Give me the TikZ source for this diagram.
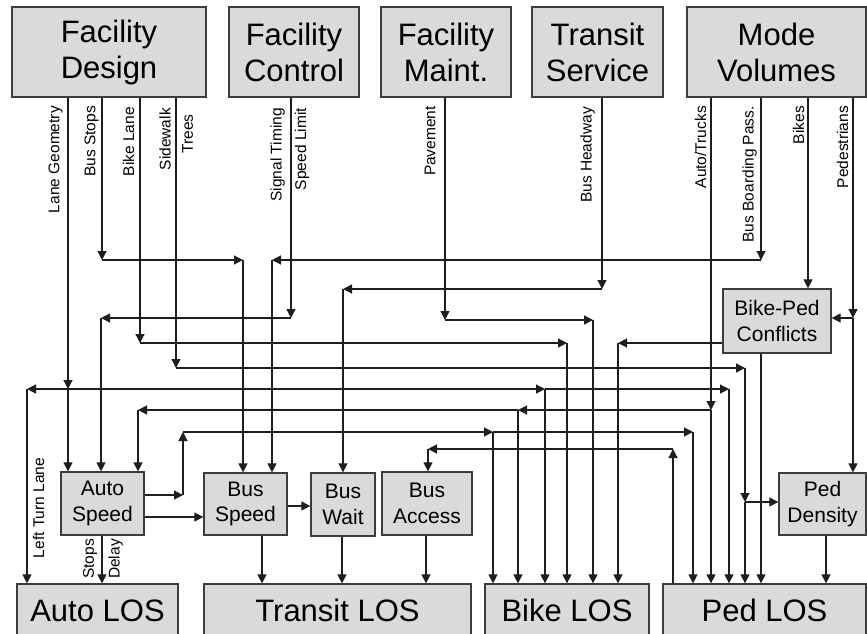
\documentclass[tikz,border=0pt]{standalone}
\usepackage{fontspec}
\setmainfont{Liberation Sans}
\usetikzlibrary{arrows.meta}
\newcommand\tfBig{\fontsize{31}{36}\selectfont}
\newcommand\tfMid{\fontsize{21}{25.5}\selectfont}
\newcommand\tfLab{\fontsize{15.5}{18}\selectfont}
\definecolor{boxfill}{RGB}{217,218,219}
\definecolor{boxline}{RGB}{60,60,60}
\definecolor{linec}{RGB}{30,30,30}
\tikzset{
  box/.style={draw=boxline, fill=boxfill, line width=1.3pt, inner sep=0pt, align=center},
  bigbox/.style={box, font=\tfBig},
  midbox/.style={box, font=\tfMid},
  ln/.style={line width=1.2pt, draw=linec},
  arr/.style={ln, -{Triangle[length=9pt,width=9pt]}},
  lab/.style={rotate=90, inner sep=0pt, font=\tfLab, text=black}
}
\begin{document}
\begin{tikzpicture}[x=1pt,y=-1pt]
\useasboundingbox (0,0) rectangle (867,633);

% top boxes
\node[bigbox, minimum width=194pt, minimum height=90pt] (fd) at (109,52) {Facility\\Design};
\node[bigbox, minimum width=130pt, minimum height=90pt] (fc) at (294,52) {Facility\\Control};
\node[bigbox, minimum width=130pt, minimum height=90pt] (fm) at (446,52) {Facility\\Maint.};
\node[bigbox, minimum width=131pt, minimum height=90pt] (ts) at (597.5,52) {Transit\\Service};
\node[bigbox, minimum width=179pt, minimum height=90pt] (mv) at (776.5,52) {Mode\\Volumes};

% middle boxes
\node[midbox, minimum width=83pt, minimum height=63pt] (aspd) at (102.5,503.5) {Auto\\Speed};
\node[midbox, minimum width=83pt, minimum height=62pt] (bspd) at (245.5,504) {Bus\\Speed};
\node[midbox, minimum width=64pt, minimum height=63pt] (bwait) at (343,504.5) {Bus\\Wait};
\node[midbox, minimum width=90pt, minimum height=63pt] (bacc) at (427,503.5) {Bus\\Access};
\node[midbox, minimum width=108pt, minimum height=64pt] (bpc) at (777,321) {Bike-Ped\\Conflicts};
\node[midbox, minimum width=87pt, minimum height=62pt] (pden) at (822.5,504) {Ped\\Density};

% bottom boxes
\node[bigbox, minimum width=161pt, minimum height=53pt] (alos) at (97.5,610.5) {Auto LOS};
\node[bigbox, minimum width=267pt, minimum height=53pt] (tlos) at (337.5,610.5) {Transit LOS};
\node[bigbox, minimum width=164pt, minimum height=53pt] (blos) at (567,610.5) {Bike LOS};
\node[bigbox, minimum width=203pt, minimum height=53pt] (plos) at (764.5,610.5) {Ped LOS};

% corner coordinates
\coordinate (lg1) at (68,389);
\coordinate (lg0) at (27,389);
\coordinate (lg2) at (545,389);
\coordinate (lg3) at (729,389);
\coordinate (bst1) at (102,260);
\coordinate (bst2) at (243,260);
\coordinate (bl1) at (140,343);
\coordinate (bl2) at (567,343);
\coordinate (sw1) at (176,368);
\coordinate (sw2) at (745,368);
\coordinate (sw3) at (745,502);
\coordinate (sig1) at (291,318);
\coordinate (sig2) at (101,318);
\coordinate (pav1) at (445,320);
\coordinate (pav2) at (593,320);
\coordinate (bh1) at (602,289);
\coordinate (bh2) at (343,289);
\coordinate (at1) at (711,410);
\coordinate (at2) at (518,410);
\coordinate (at3) at (138,410);
\coordinate (bb1) at (761,260);
\coordinate (bb2) at (272,260);
\coordinate (bkx) at (808,0);
\coordinate (ped1) at (853,318);
\coordinate (bpc1) at (618,343);
\coordinate (bpx) at (761,0);
\coordinate (asp1) at (183,495);
\coordinate (asp2) at (183,432);
\coordinate (asp3) at (493,432);
\coordinate (asp4) at (693,432);
\coordinate (asb) at (0,517);
\coordinate (asx) at (102,0);
\coordinate (bsw) at (0,506);
\coordinate (bsx) at (262,0);
\coordinate (bwx) at (342,0);
\coordinate (bax) at (426,0);
\coordinate (pl1) at (673,449);
\coordinate (pl2) at (428,449);
\coordinate (pdx) at (826,0);

% Lane Geometry
\draw[arr] (fd.south -| lg1) -- (lg1);
\draw[arr] (lg1) -- (lg0);
\draw[arr] (lg0) -- (lg0 |- alos.north);
\draw[arr] (lg1) -- (lg1 |- aspd.north);
\draw[arr] (lg1) -- (lg2);
\draw[arr] (lg2) -- (lg2 |- blos.north);
\draw[arr] (lg2) -- (lg3);
\draw[arr] (lg3) -- (lg3 |- plos.north);
% Bus Stops
\draw[arr] (fd.south -| bst1) -- (bst1);
\draw[arr] (bst1) -- (bst2);
\draw[arr] (bst2) -- (bst2 |- bspd.north);
% Bike Lane
\draw[arr] (fd.south -| bl1) -- (bl1);
\draw[arr] (bl1) -- (bl2);
\draw[arr] (bl2) -- (bl2 |- blos.north);
% Sidewalk / Trees
\draw[arr] (fd.south -| sw1) -- (sw1);
\draw[arr] (sw1) -- (sw2);
\draw[arr] (sw2) -- (sw3);
\draw[arr] (sw3) -- (sw3 -| pden.west);
\draw[arr] (sw3) -- (sw3 |- plos.north);
% Signal Timing / Speed Limit
\draw[arr] (fc.south -| sig1) -- (sig1);
\draw[arr] (sig1) -- (sig2);
\draw[arr] (sig2) -- (sig2 |- aspd.north);
% Pavement
\draw[arr] (fm.south -| pav1) -- (pav1);
\draw[arr] (pav1) -- (pav2);
\draw[arr] (pav2) -- (pav2 |- blos.north);
% Bus Headway
\draw[arr] (ts.south -| bh1) -- (bh1);
\draw[arr] (bh1) -- (bh2);
\draw[arr] (bh2) -- (bh2 |- bwait.north);
% Auto/Trucks
\draw[arr] (mv.south -| at1) -- (at1);
\draw[arr] (at1) -- (at2);
\draw[arr] (at2) -- (at2 |- blos.north);
\draw[arr] (at2) -- (at3);
\draw[arr] (at3) -- (at3 |- aspd.north);
\draw[arr] (at1) -- (at1 |- plos.north);
% Bus Boarding Pass.
\draw[arr] (mv.south -| bb1) -- (bb1);
\draw[arr] (bb1) -- (bb2);
\draw[arr] (bb2) -- (bb2 |- bspd.north);
% Bikes
\draw[arr] (mv.south -| bkx) -- (bpc.north -| bkx);
% Pedestrians
\draw[arr] (mv.south -| ped1) -- (ped1);
\draw[arr] (ped1) -- (ped1 -| bpc.east);
\draw[arr] (ped1) -- (ped1 |- pden.north);
% Bike-Ped Conflicts
\draw[arr] (bpc.west |- bpc1) -- (bpc1);
\draw[arr] (bpc1) -- (bpc1 |- blos.north);
\draw[arr] (bpc.south -| bpx) -- (bpx |- plos.north);
% Auto Speed
\draw[arr] (aspd.east |- asp1) -- (asp1);
\draw[arr] (asp1) -- (asp2);
\draw[arr] (asp2) -- (asp3);
\draw[arr] (asp3) -- (asp3 |- blos.north);
\draw[arr] (asp3) -- (asp4);
\draw[arr] (asp4) -- (asp4 |- plos.north);
\draw[arr] (aspd.east |- asb) -- (bspd.west |- asb);
\draw[arr] (aspd.south -| asx) -- (asx |- alos.north);
% Bus Speed / Wait / Access
\draw[arr] (bspd.east |- bsw) -- (bwait.west |- bsw);
\draw[arr] (bspd.south -| bsx) -- (bsx |- tlos.north);
\draw[arr] (bwait.south -| bwx) -- (bwx |- tlos.north);
\draw[arr] (bacc.south -| bax) -- (bax |- tlos.north);
% Ped LOS -> Bus Access
\draw[arr] (plos.north -| pl1) -- (pl1);
\draw[arr] (pl1) -- (pl2);
\draw[arr] (pl2) -- (pl2 |- bacc.north);
% Ped Density -> Ped LOS
\draw[arr] (pden.south -| pdx) -- (pdx |- plos.north);

% labels
\node[lab, anchor=east] (tLG) at (55.5,106) {Lane Geometry};
\node[lab, anchor=east] (tBS) at (91.5,106) {Bus Stops};
\node[lab, anchor=east] (tBL) at (128.5,107) {Bike Lane};
\node[lab, anchor=east] (tSW) at (165,108) {Sidewalk};
\node[lab] (tTR) at (187.5,134) {Trees};
\node[lab, anchor=east] (tST) at (277.5,108) {Signal Timing};
\node[lab, anchor=east] (tSL) at (302,108) {Speed Limit};
\node[lab, anchor=east] (tPV) at (430,106) {Pavement};
\node[lab, anchor=east] (tBH) at (587.5,107) {Bus Headway};
\node[lab, anchor=east] (tAT) at (700.5,106) {Auto/Trucks};
\node[lab, anchor=east] (tBB) at (749.5,106) {Bus Boarding Pass.};
\node[lab, anchor=east] (tBK) at (798.5,106) {Bikes};
\node[lab, anchor=east] (tPD) at (842.5,106) {Pedestrians};
\node[lab] (tLT) at (38.5,508) {Left Turn Lane};
\node[lab] (tSP) at (90,559) {Stops};
\node[lab] (tDL) at (115.5,559) {Delay};
\end{tikzpicture}
\end{document}
